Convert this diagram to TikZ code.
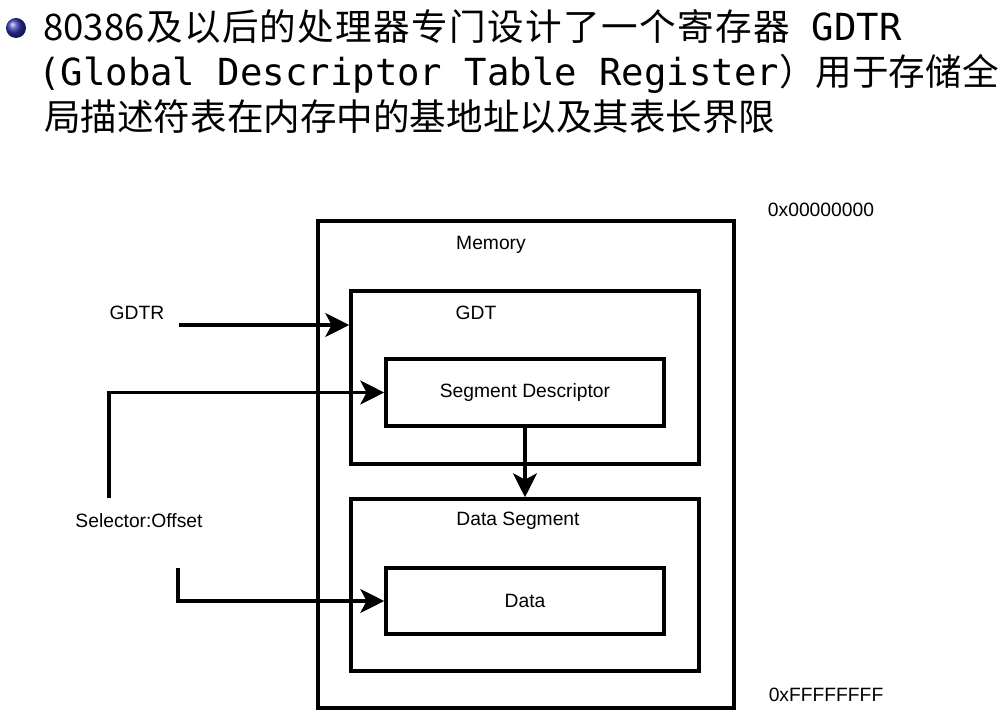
\documentclass[tikz,border=0pt]{standalone}
\usepackage{fontspec}
\usepackage{tikz}
\usetikzlibrary{arrows.meta}
\setmainfont{Liberation Sans}
\newfontfamily\cjk{Noto Sans CJK SC}
\newfontfamily\cjkwide[LetterSpace=3.8]{Noto Sans CJK SC}
\newfontfamily\mono[Scale=1.02]{DejaVu Sans Mono}
\definecolor{ballblue}{RGB}{51,51,179}
\definecolor{black}{RGB}{0,0,0}

\tikzset{
	box/.style={draw=black,line width=2.5pt,inner sep=0pt},
	lbl/.style={inner sep=0pt,font=\fontsize{13.7}{16}\selectfont},
	title/.style={anchor=base west,inner sep=0pt,font=\fontsize{26}{32}\selectfont\cjk},
	link/.style={black,line width=2.5pt,-{Stealth[length=17pt,width=17pt,inset=4.5pt]}}
}

\begin{document}
\begin{tikzpicture}[x=0.025cm,y=-0.025cm]
	\useasboundingbox (0,0) rectangle (1000,722);
	% bullet text
	\shade[ball color=ballblue] (16,28) circle[radius=0.25cm];
	\node[title] (line1) at (43,41) {80386\hspace{1pt}{\cjkwide 及以后的处理器专门设计了一个寄存器}\hspace{0.55cm}{\mono GDTR}};
	\node[title] (line2) at (38,86) {{\mono(Global Descriptor Table Register}）用于存储全};
	\node[title] (line3) at (44,131) {局描述符表在内存中的基地址以及其表长界限};
	
	% memory boxes
	\node[box,minimum width=10.4cm,minimum height=12.175cm] (mem) at (526,464.5) {};
	\node[box,minimum width=8.7cm,minimum height=4.325cm] (gdt) at (525,377.5) {};
	\node[box,lbl,minimum width=6.95cm,minimum height=1.675cm] (segdesc) at (525,392.5) {Segment Descriptor};
	\node[box,minimum width=8.7cm,minimum height=4.3cm] (dataseg) at (525,585) {};
	\node[box,lbl,minimum width=6.95cm,minimum height=1.65cm] (data) at (525,601) {Data};
	
	\node[lbl] (memlbl) at (491,245) {Memory};
	\node[lbl] (gdtlbl) at (476,313) {GDT};
	\node[lbl] (dseglbl) at (518,521) {Data Segment};
	\node[lbl] (top) at (821,210) {0x00000000};
	\node[lbl] (bottom) at (826,695) {0xFFFFFFFF};
	\node[lbl] (gdtr) at (137,313) {GDTR};
	\node[lbl] (selector) at (139,521) {Selector:Offset};
	
	% connectors
	\coordinate (gdtrout) at (179,325);
	\coordinate (selup) at (109,498);
	\coordinate (seldown) at (178,568);
	\draw[link] (gdtrout) -- (gdtrout -| gdt.west);
	\draw[link] (selup) |- (segdesc.west);
	\draw[link] (seldown) |- (data.west);
	\draw[link] (segdesc.south) -- (dataseg.north);
\end{tikzpicture}
\end{document}
